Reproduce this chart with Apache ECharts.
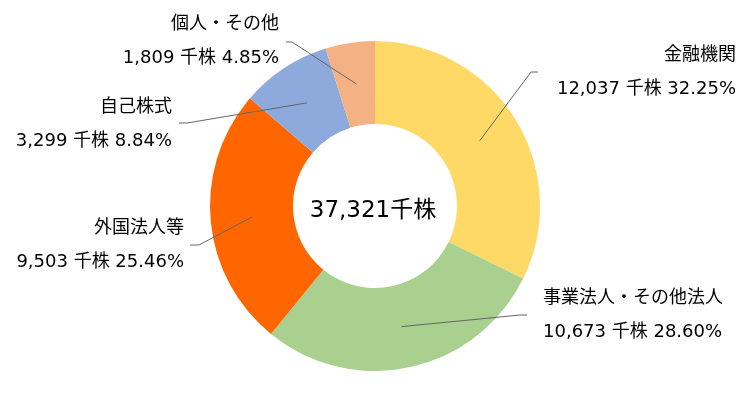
<!DOCTYPE html>
<html><head><meta charset="utf-8">
<script src="https://cdn.jsdelivr.net/npm/echarts@6/dist/echarts.min.js"></script>
<style>html,body{margin:0;padding:0;background:#fff}#c{width:751px;height:402px}</style>
</head><body><div id="c"></div>
<script>
const categories = ['金融機関', '事業法人・その他法人', '外国法人等', '自己株式', '個人・その他'];
const values = [12037, 10673, 9503, 3299, 1809];
const percentLabels = ['32.25%', '28.60%', '25.46%', '8.84%', '4.85%'];
const unitLabel = '千株';
const totalLabel = '37,321千株';
const colors = ['#FFD966', '#A9D08E', '#FF6600', '#8EA9DB', '#F4B183'];

const FONT_CJK = '"Noto Sans CJK JP", sans-serif';
const FONT_NUM = '"DejaVu Sans", "Noto Sans CJK JP", sans-serif';
const CX = 375, CY = 206, R0 = 82, R1 = 165;
// label layout: [textX, textMidY, align, lineEndX, lineEndY, bendDx]
const labelSpots = [
  [736, 71, 'right', 538, 72, -7],
  [543, 314, 'left', 527, 315, -7],
  [184, 244.5, 'right', 190, 245, 9],
  [172, 123.5, 'right', 179, 123, 8],
  [279, 40.5, 'right', 286, 42, 6]
];

const total = values.reduce((a, b) => a + b, 0);
const midAngles = [];
let cum = 0;
values.forEach(v => { midAngles.push((cum + v / 2) / total * Math.PI * 2); cum += v; });

const fmt = n => n.toLocaleString('en-US');
const pieData = categories.map((c, i) => ({name: c, value: values[i]}));

const chart = echarts.init(document.getElementById('c'), null, {renderer: 'canvas'});
chart.setOption({
  animation: false,
  backgroundColor: '#fff',
  color: colors,
  graphic: [{
    type: 'text', x: CX - 2, y: 211, z: 10,
    style: {text: totalLabel, fontSize: 23, fontFamily: FONT_NUM, fill: '#000',
      textAlign: 'center', textVerticalAlign: 'middle'}
  }],
  series: [{
    type: 'pie',
    center: [CX, CY],
    radius: [R0, R1],
    startAngle: 90,
    clockwise: true,
    silent: true,
    z: 2,
    data: pieData,
    label: {show: false},
    labelLine: {show: false}
  }, {
    type: 'pie',
    center: [CX, CY],
    radius: [R0, R1],
    startAngle: 90,
    clockwise: true,
    silent: true,
    z: 5,
    data: pieData,
    itemStyle: {color: 'rgba(0,0,0,0)'},
    label: {
      show: true,
      position: 'outside',
      alignTo: 'none',
      formatter: p => '{n|' + p.name + '}\n{v|' + fmt(p.value) + ' ' + unitLabel + ' ' + percentLabels[p.dataIndex] + '}',
      rich: {
        n: {fontSize: 18, lineHeight: 36, fontFamily: FONT_CJK, color: '#000'},
        v: {fontSize: 18, lineHeight: 36, fontFamily: FONT_NUM, color: '#000'}
      }
    },
    labelLine: {show: true, length: 10, length2: 10, smooth: false,
      lineStyle: {color: '#666666', width: 1}},
    labelLayout: function (params) {
      const i = params.dataIndex;
      const s = labelSpots[i];
      const a = midAngles[i];
      const rm = (R0 + R1) / 2;
      const start = [CX + rm * Math.sin(a), CY - rm * Math.cos(a)];
      const end = [s[3], s[4]];
      const bend = [s[3] + s[5], s[4]];
      return {
        x: s[0], y: s[1], align: s[2], verticalAlign: 'middle',
        labelLinePoints: [start, bend, end]
      };
    }
  }]
});
</script>
</body></html>
